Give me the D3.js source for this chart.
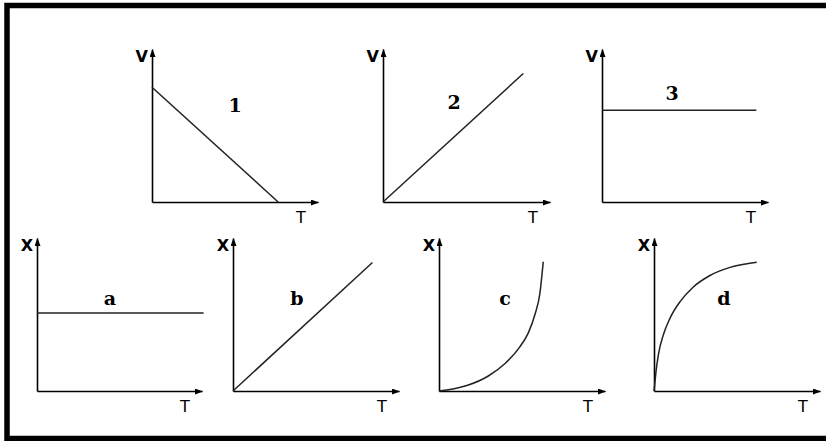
<!DOCTYPE html>
<html>
<head>
<meta charset="utf-8">
<script src="https://cdn.jsdelivr.net/npm/d3@7"></script>
<style>
    html, body { margin: 0; padding: 0; background: #fff; }
    svg { display: block; }
</style>
</head>
<body>
<svg id="drawing_region"></svg>
<script>
// graph labels
const panelLabels = ["1", "2", "3", "a", "b", "c", "d"];
const yAxisLabels = ["V", "V", "V", "X", "X", "X", "X"];
const xAxisLabel = "T";

// series values, [T, value] on a 0..10 scale
const series1 = [[0, 7.5], [7.6, 0]];
const series2 = [[0, 0], [8.4, 8.4]];
const series3 = [[0, 6], [9.3, 6]];
const seriesA = [[0, 5.1], [10.1, 5.1]];
const seriesB = [[0, 0], [8.4, 8.4]];
const seriesC = [[0, 0], [0.56, 0.08], [1.77, 0.39], [2.97, 0.98], [3.98, 1.8], [4.78, 2.75],
                 [5.38, 3.8], [5.78, 5.0], [6.08, 6.4], [6.28, 8.45]];
const seriesD = [[0, 0], [0.06, 0.6], [0.12, 1.26], [0.26, 2.35], [0.56, 3.66], [0.96, 4.75],
                 [1.57, 5.84], [2.37, 6.8], [3.37, 7.55], [4.58, 8.08], [6.19, 8.41]];
const allSeries = [series1, series2, series3, seriesA, seriesB, seriesC, seriesD];

// where each small graph sits (origin, axis lengths, label spot)
const layout = [
    { ox: 152, oy: 202, w: 166, h: 153, lx: 235, ly: 112 },
    { ox: 383, oy: 202, w: 167, h: 153, lx: 454, ly: 109 },
    { ox: 602, oy: 202, w: 166, h: 153, lx: 672, ly: 100 },
    { ox: 37,  oy: 391, w: 165, h: 153, lx: 110, ly: 305 },
    { ox: 233, oy: 391, w: 166, h: 153, lx: 297, ly: 305 },
    { ox: 439, oy: 391, w: 166, h: 153, lx: 505, ly: 305 },
    { ox: 654, oy: 391, w: 166, h: 153, lx: 724, ly: 305 }
];

const width = 826, height = 441;

const svg = d3.select('#drawing_region')
    .attr('width', width)
    .attr('height', height);

svg.append('rect')
    .attr('width', width)
    .attr('height', height)
    .attr('fill', '#fff');

svg.append('defs').append('marker')
    .attr('id', 'arrow')
    .attr('viewBox', '0 0 8 6')
    .attr('refX', 7.5)
    .attr('refY', 3)
    .attr('markerWidth', 8)
    .attr('markerHeight', 6)
    .attr('markerUnits', 'userSpaceOnUse')
    .attr('orient', 'auto')
    .append('path')
    .attr('d', 'M0,0L8,3L0,6Z')
    .attr('fill', '#000');

// frame (open on the right, like the picture)
svg.append('path')
    .attr('d', `M${width + 5},5.5H7V438.5H${width + 5}`)
    .attr('fill', 'none')
    .attr('stroke', '#000')
    .attr('stroke-width', 5.5);

layout.forEach((p, i) => {
    const g = svg.append('g');

    const xscale = d3.scaleLinear().domain([0, 10]).range([p.ox, p.ox + p.w]);
    const yscale = d3.scaleLinear().domain([0, 10]).range([p.oy, p.oy - p.h]);

    const xaxis = d3.axisBottom(xscale).tickValues([]).tickSizeOuter(0);
    const yaxis = d3.axisLeft(yscale).tickValues([]).tickSizeOuter(0);

    g.append('g')
        .attr('transform', `translate(0, ${p.oy})`)
        .call(xaxis)
        .select('.domain')
        .attr('stroke', '#000')
        .attr('stroke-width', 1.6)
        .attr('marker-end', 'url(#arrow)');

    g.append('g')
        .attr('transform', `translate(${p.ox}, 0)`)
        .call(yaxis)
        .select('.domain')
        .attr('stroke', '#000')
        .attr('stroke-width', 1.6)
        .attr('marker-end', 'url(#arrow)');

    const line = d3.line()
        .x(d => xscale(d[0]))
        .y(d => yscale(d[1]))
        .curve(allSeries[i].length > 2 ? d3.curveMonotoneX : d3.curveLinear);

    g.append('path')
        .datum(allSeries[i])
        .attr('d', line)
        .attr('fill', 'none')
        .attr('stroke', '#222')
        .attr('stroke-width', 1.5);

    // axis names
    g.append('text')
        .attr('x', p.ox - 4)
        .attr('y', p.oy - p.h + 13)
        .attr('text-anchor', 'end')
        .attr('font-family', 'DejaVu Sans')
        .attr('font-weight', 'bold')
        .attr('font-size', 16)
        .text(yAxisLabels[i]);

    g.append('text')
        .attr('x', p.ox + p.w - 17)
        .attr('y', p.oy + 21)
        .attr('text-anchor', 'middle')
        .attr('font-family', 'DejaVu Sans')
        .attr('font-size', 16)
        .text(xAxisLabel);

    g.append('text')
        .attr('x', p.lx)
        .attr('y', p.ly)
        .attr('text-anchor', 'middle')
        .attr('font-family', 'DejaVu Serif')
        .attr('font-weight', 'bold')
        .attr('font-size', 19)
        .text(panelLabels[i]);
});
</script>
</body>
</html>
